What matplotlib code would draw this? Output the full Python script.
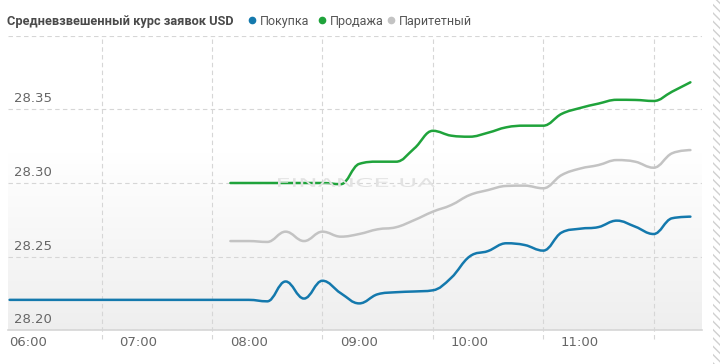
import numpy as np
import matplotlib
matplotlib.use("Agg")
import matplotlib.pyplot as plt
from matplotlib.path import Path
from matplotlib.patches import PathPatch, Rectangle
from matplotlib.lines import Line2D
from matplotlib.textpath import TextPath
from matplotlib.transforms import Affine2D, IdentityTransform

# --- data (10-minute steps) ---
buy_times = ["05:50", "06:00", "06:10", "06:20", "06:30", "06:40", "06:50",
             "07:00", "07:10", "07:20", "07:30", "07:40", "07:50", "08:00",
             "08:10", "08:20", "08:30", "08:40", "08:50", "09:00", "09:10",
             "09:20", "09:30", "09:40", "09:50", "10:00", "10:10", "10:20",
             "10:30", "10:40", "10:50", "11:00", "11:10", "11:20", "11:30",
             "11:40", "11:50", "12:00"]
buy = [28.2205, 28.2205, 28.2205, 28.2205, 28.2205, 28.2205, 28.2205,
       28.2205, 28.2205, 28.2205, 28.2205, 28.2205, 28.2205, 28.2205,
       28.2195, 28.2330, 28.2214, 28.2335, 28.2250, 28.2181, 28.2243,
       28.2257, 28.2262, 28.2270, 28.2355, 28.2500, 28.2537, 28.2590,
       28.2578, 28.2540, 28.2663, 28.2689, 28.2700, 28.2744, 28.2703,
       28.2653, 28.2760, 28.2771]

sell_times = buy_times[12:]
sell = [28.3000, 28.3000, 28.3000, 28.3000, 28.3000, 28.3000, 28.2992,
        28.3130, 28.3145, 28.3145, 28.3236, 28.3355, 28.3322, 28.3315,
        28.3342, 28.3379, 28.3390, 28.3390, 28.3470, 28.3510, 28.3540,
        28.3566, 28.3565, 28.3558, 28.3621, 28.3685]

par_times = buy_times[12:]
par = [28.2605, 28.2605, 28.2599, 28.2669, 28.2605, 28.2669, 28.2635,
       28.2653, 28.2685, 28.2699, 28.2748, 28.2805, 28.2850, 28.2918,
       28.2952, 28.2980, 28.2982, 28.2964, 28.3054, 28.3098, 28.3122,
       28.3156, 28.3145, 28.3104, 28.3202, 28.3224]

x_ticks = ["06:00", "07:00", "08:00", "09:00", "10:00", "11:00"]
x_grid = ["06:40", "07:40", "08:40", "09:40", "10:40", "11:40"]
y_ticks = [28.20, 28.25, 28.30, 28.35, 28.40]

title = "Средневзвешенный курс заявок USD"
names = ["Покупка", "Продажа", "Паритетный"]
colors = ["#1479ad", "#1fa33b", "#c3c3c3"]


def to_hours(ts):
    return np.array([int(t[:2]) + int(t[3:]) / 60 for t in ts])


def spline_path(xs, ys, smoothing=1.5):
    # highcharts-like spline through the points
    n = len(xs)
    left = [None] * n
    right = [None] * n
    for i in range(n):
        x, y = xs[i], ys[i]
        if i == 0 or i == n - 1:
            left[i] = right[i] = (x, y)
            continue
        px, py = xs[i - 1], ys[i - 1]
        nx, ny = xs[i + 1], ys[i + 1]
        lcx = (smoothing * x + px) / (smoothing + 1)
        lcy = (smoothing * y + py) / (smoothing + 1)
        rcx = (smoothing * x + nx) / (smoothing + 1)
        rcy = (smoothing * y + ny) / (smoothing + 1)
        corr = ((rcy - lcy) * (rcx - x)) / (rcx - lcx) + y - rcy
        lcy += corr
        rcy += corr
        if lcy > py and lcy > y:
            lcy = max(py, y); rcy = 2 * y - lcy
        elif lcy < py and lcy < y:
            lcy = min(py, y); rcy = 2 * y - lcy
        if rcy > ny and rcy > y:
            rcy = max(ny, y); lcy = 2 * y - rcy
        elif rcy < ny and rcy < y:
            rcy = min(ny, y); lcy = 2 * y - rcy
        left[i] = (lcx, lcy)
        right[i] = (rcx, rcy)
    verts = [(xs[0], ys[0])]
    codes = [Path.MOVETO]
    for i in range(1, n):
        verts += [right[i - 1], left[i], (xs[i], ys[i])]
        codes += [Path.CURVE4] * 3
    return Path(verts, codes)


W, H = 720, 364
fig = plt.figure(figsize=(W / 100, H / 100), dpi=100)
ax = fig.add_axes([8 / W, 1 - 330 / H, 694 / W, 294 / H])

# background gradient
grad = np.ones((200, 1, 3))
v = np.linspace(0, 1, 200)
shade = np.clip(1 - v / 0.6, 0, 1)
grad[:, 0, :] = (1 - 0.065 * shade)[:, None]
ax.imshow(grad, extent=[0, 1, 0, 1], transform=ax.transAxes, aspect="auto",
          origin="lower", zorder=0)

x0, x1 = 6 + (8 - 28) / 110.4, 6 + (702 - 28) / 110.4
ax.set_xlim(x0, x1)
ax.set_ylim(28.20, 28.40)

for s in ["top", "right", "left"]:
    ax.spines[s].set_visible(False)
ax.spines["bottom"].set_color("#d6d6d6")
ax.spines["bottom"].set_linewidth(1.2)

ax.set_yticks(y_ticks)
ax.set_yticklabels([])
ax.tick_params(axis="y", length=0)
ax.grid(axis="y", color="#d6d6d6", linestyle=(0, (4, 3)), linewidth=0.8)
for xv in to_hours(x_grid):
    ax.axvline(xv, ymin=-0.03, ymax=1, color="#d6d6d6", linestyle=(0, (4, 3)),
               linewidth=0.8, clip_on=False, zorder=1)

for yv in y_ticks[:-1]:
    ax.annotate(f"{yv:.2f}", xy=(0, yv), xycoords=("axes fraction", "data"),
                xytext=(6, 4), textcoords="offset pixels", ha="left", va="bottom",
                fontsize=9.5, color="#666666", zorder=5)

ax.set_xticks(to_hours(x_ticks))
ax.set_xticklabels(x_ticks, fontsize=9.5, color="#666666")
ax.tick_params(axis="x", length=0, pad=4.5)

# watermark
tp = TextPath((0, 0), "FINANCE.UA", size=12, prop={"family": "DejaVu Sans"})
bb = tp.get_extents()
sx = 157 / bb.width
sy = 9 / bb.height
tr = Affine2D().translate(-bb.x0, -bb.y0).scale(sx, sy).translate(278, H - 187)
wm = PathPatch(tr.transform_path(tp), transform=IdentityTransform(),
               facecolor="#e2e2e2", edgecolor="none", zorder=1)
fig.patches.append(wm)

series = [(buy_times, buy), (sell_times, sell), (par_times, par)]
for (ts, vals), c in zip(series, colors):
    p = spline_path(to_hours(ts), np.array(vals))
    ax.add_patch(PathPatch(p, fill=False, edgecolor=c, linewidth=1.8,
                           capstyle="round", joinstyle="round", zorder=3))

# title + legend
font = ["Roboto", "DejaVu Sans"]
fig.text(7 / W, 1 - 21 / H, title, fontsize=9.2, fontweight="bold",
         color="#4a4a4a", family=font, va="center", ha="left")
leg_x = [252, 322, 391]
for lx, name, c in zip(leg_x, names, colors):
    fig.add_artist(Line2D([lx / W], [1 - 20 / H], marker="o", markersize=4.5,
                          color=c, transform=fig.transFigure))
    fig.text((lx + 8) / W, 1 - 21 / H, name, fontsize=9.0, color="#555555",
             family=font, va="center", ha="left")

fig.patches.append(Rectangle((713 / W, 0), 7 / W, 1, transform=fig.transFigure,
                             fill=False, hatch="\\\\\\\\", edgecolor="#d0d0d0",
                             linewidth=0))

fig.savefig("out.png", dpi=100)
